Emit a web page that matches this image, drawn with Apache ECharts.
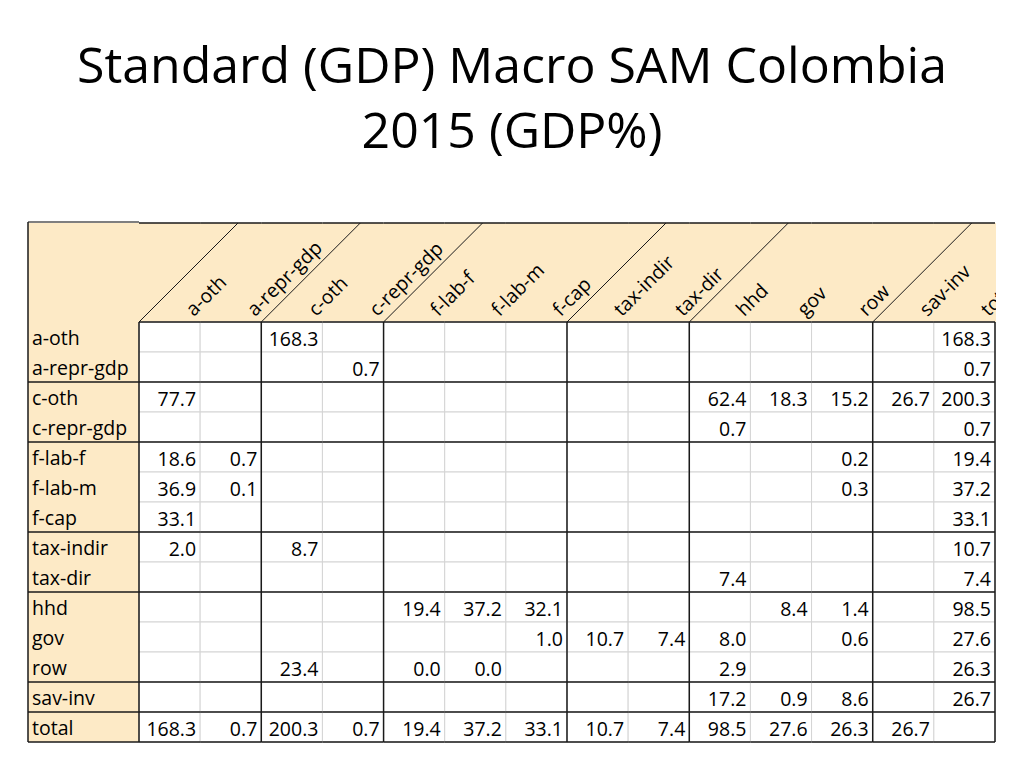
<!DOCTYPE html>
<html>
<head>
<meta charset="utf-8">
<title>Standard (GDP) Macro SAM Colombia 2015 (GDP%)</title>
<script src="https://cdn.jsdelivr.net/npm/echarts@6/dist/echarts.min.js"></script>
<style>
  html, body { margin: 0; padding: 0; background: #fff; }
  #chart { width: 1024px; height: 768px; }
</style>
</head>
<body>
<div id="chart"></div>
<script>
// accounts of the SAM, same order for rows and columns
const rowLabels = ['a-oth', 'a-repr-gdp', 'c-oth', 'c-repr-gdp', 'f-lab-f', 'f-lab-m', 'f-cap', 'tax-indir', 'tax-dir', 'hhd', 'gov', 'row', 'sav-inv', 'total']
const colLabels = ['a-oth', 'a-repr-gdp', 'c-oth', 'c-repr-gdp', 'f-lab-f', 'f-lab-m', 'f-cap', 'tax-indir', 'tax-dir', 'hhd', 'gov', 'row', 'sav-inv', 'total']

// one array per row, values in colLabels order (null = empty cell)
const aOth      = [null, null, 168.3, null, null, null, null, null, null, null, null, null, null, 168.3]
const aReprGdp  = [null, null, null, 0.7, null, null, null, null, null, null, null, null, null, 0.7]
const cOth      = [77.7, null, null, null, null, null, null, null, null, 62.4, 18.3, 15.2, 26.7, 200.3]
const cReprGdp  = [null, null, null, null, null, null, null, null, null, 0.7, null, null, null, 0.7]
const fLabF     = [18.6, 0.7, null, null, null, null, null, null, null, null, null, 0.2, null, 19.4]
const fLabM     = [36.9, 0.1, null, null, null, null, null, null, null, null, null, 0.3, null, 37.2]
const fCap      = [33.1, null, null, null, null, null, null, null, null, null, null, null, null, 33.1]
const taxIndir  = [2.0, null, 8.7, null, null, null, null, null, null, null, null, null, null, 10.7]
const taxDir    = [null, null, null, null, null, null, null, null, null, 7.4, null, null, null, 7.4]
const hhd       = [null, null, null, null, 19.4, 37.2, 32.1, null, null, null, 8.4, 1.4, null, 98.5]
const gov       = [null, null, null, null, null, null, 1.0, 10.7, 7.4, 8.0, null, 0.6, null, 27.6]
const rowAcc    = [null, null, 23.4, null, 0.0, 0.0, null, null, null, 2.9, null, null, null, 26.3]
const savInv    = [null, null, null, null, null, null, null, null, null, 17.2, 0.9, 8.6, null, 26.7]
const totalRow  = [168.3, 0.7, 200.3, 0.7, 19.4, 37.2, 33.1, 10.7, 7.4, 98.5, 27.6, 26.3, 26.7, null]

const samValues = [aOth, aReprGdp, cOth, cReprGdp, fLabF, fLabM, fCap, taxIndir, taxDir, hhd, gov, rowAcc, savInv, totalRow]

// account groups: thick border after these indices
const colBreaks = [1, 3, 6, 8, 11, 13]
const rowBreaks = [1, 3, 6, 8, 11, 12, 13]

const FONT = '19.5px "Open Sans", sans-serif'
const BEIGE = '#fdeac6'
const THICK = '#1a1a1a'
const THIN = '#d4d4d4'
const TABLE_LEFT = 28
const HEADER_H = 99
const HEADER_RIGHT = 996

const cellData = []
samValues.forEach((vals, r) => {
  vals.forEach((v, c) => cellData.push([c, r]))
})

function line(x1, y1, x2, y2, color, width, z2) {
  return {
    type: 'line',
    shape: { x1, y1, x2, y2 },
    style: { stroke: color, lineWidth: width },
    z2: z2
  }
}

function renderCell(params, api) {
  const col = api.value(0)
  const row = api.value(1)
  const c = api.coord([col, row])
  const size = api.size([1, 1])
  const w = size[0]
  const h = size[1]
  const x0 = c[0] - w / 2
  const y0 = c[1] - h / 2
  const v = samValues[row][col]
  const children = [{
    type: 'rect',
    shape: { x: x0, y: y0, width: w, height: h },
    style: { fill: '#fff', stroke: THIN, lineWidth: 1 },
    z2: 1
  }]
  if (v !== null) {
    children.push({
      type: 'text',
      x: x0 + w - 4,
      y: c[1] + 1,
      style: { text: v.toFixed(1), align: 'right', verticalAlign: 'middle', font: FONT, fill: '#000' },
      z2: 6
    })
  }
  if (col === 0) children.push(line(x0, y0, x0, y0 + h, THICK, 1.5, 8))
  if (colBreaks.includes(col)) children.push(line(x0 + w, y0, x0 + w, y0 + h, THICK, 1.5, 8))
  if (row === 0) children.push(line(x0, y0, x0 + w, y0, THICK, 1.5, 8))
  if (rowBreaks.includes(row)) children.push(line(x0, y0 + h, x0 + w, y0 + h, THICK, 1.5, 8))
  return { type: 'group', children }
}

function renderRowHead(params, api) {
  const row = api.value(1)
  const c = api.coord([0, row])
  const size = api.size([1, 1])
  const left = c[0] - size[0] / 2
  const y0 = c[1] - size[1] / 2
  const h = size[1]
  const children = [{
    type: 'rect',
    shape: { x: TABLE_LEFT, y: y0, width: left - TABLE_LEFT, height: h },
    style: { fill: BEIGE },
    z2: 0
  }, line(TABLE_LEFT, y0, TABLE_LEFT, y0 + h, THICK, 1.5, 8)]
  if (rowBreaks.includes(row)) children.push(line(TABLE_LEFT, y0 + h, left, y0 + h, THICK, 1.5, 8))
  return { type: 'group', children }
}

function renderColHead(params, api) {
  const col = api.value(0)
  const c = api.coord([col, 0])
  const size = api.size([1, 1])
  const w = size[0]
  const x0 = c[0] - w / 2
  const bottom = c[1] - size[1] / 2
  const top = bottom - HEADER_H
  const children = [
    line(x0, top, Math.min(x0 + w, HEADER_RIGHT - 1), top, THICK, 1.5, 8),
    {
      type: 'group',
      clipPath: { type: 'rect', shape: { x: TABLE_LEFT, y: top, width: HEADER_RIGHT - TABLE_LEFT, height: HEADER_H } },
      children: [{
        type: 'text',
        x: c[0] + 19,
        y: bottom - 10,
        rotation: Math.PI / 4,
        style: { text: colLabels[col], align: 'left', verticalAlign: 'middle', font: FONT, fill: '#000' },
        z2: 6
      }]
    }
  ]
  if (col === 0 || colBreaks.includes(col - 1)) {
    children.push(line(x0, bottom, x0 + HEADER_H, top, THICK, 1, 7))
  }
  if (col === 0) {
    children.push({
      type: 'rect',
      shape: { x: TABLE_LEFT, y: top, width: HEADER_RIGHT - TABLE_LEFT, height: HEADER_H },
      style: { fill: BEIGE },
      z2: 0
    })
    children.push(line(TABLE_LEFT, top - 1, x0, top - 1, '#555', 1.5, 8))
    children.push(line(TABLE_LEFT, top - 1, TABLE_LEFT, bottom, THICK, 1.5, 8))
  }
  return { type: 'group', children }
}

const chart = echarts.init(document.getElementById('chart'), null, { renderer: 'svg' })

const option = {
  animation: false,
  backgroundColor: '#fff',
  title: {
    text: 'Standard (GDP) Macro SAM Colombia\n2015 (GDP%)',
    left: 512,
    top: 31,
    padding: 0,
    textAlign: 'center',
    textStyle: {
      fontFamily: '"Open Sans", sans-serif',
      fontSize: 50,
      fontWeight: 'normal',
      color: '#000',
      lineHeight: 65
    }
  },
  grid: { left: 139, right: 29, top: 322, bottom: 26 },
  xAxis: {
    type: 'category',
    data: colLabels,
    show: false
  },
  yAxis: {
    type: 'category',
    data: rowLabels,
    inverse: true,
    z: 10,
    axisLine: { show: false },
    axisTick: { show: false },
    splitLine: { show: false },
    axisLabel: {
      align: 'left',
      margin: 107,
      fontFamily: '"Open Sans", sans-serif',
      fontSize: 19.5,
      color: '#000'
    }
  },
  series: [
    {
      type: 'custom',
      name: 'rowHead',
      data: rowLabels.map((_, i) => [0, i]),
      renderItem: renderRowHead,
      clip: false,
      silent: true
    },
    {
      type: 'custom',
      name: 'colHead',
      data: colLabels.map((_, i) => [i, 0]),
      renderItem: renderColHead,
      clip: false,
      silent: true
    },
    {
      type: 'custom',
      name: 'cells',
      data: cellData,
      renderItem: renderCell,
      clip: false,
      silent: true
    }
  ]
}

chart.setOption(option)
</script>
</body>
</html>
